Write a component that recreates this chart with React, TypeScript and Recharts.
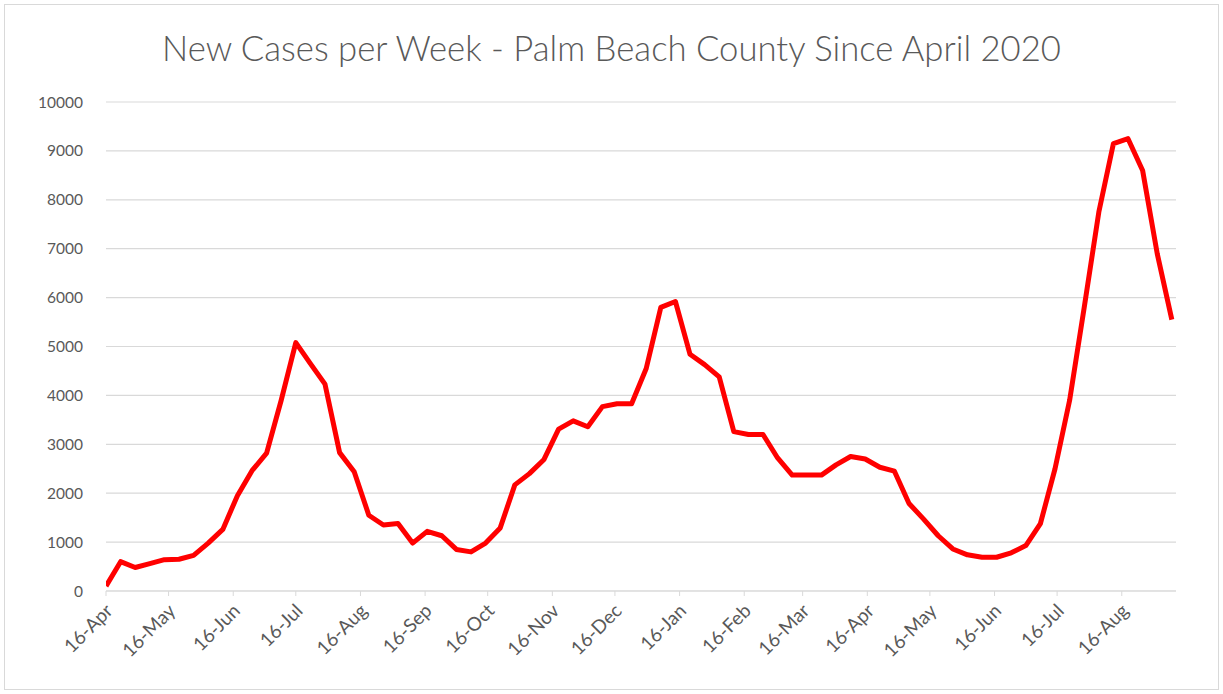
import { CartesianGrid, Line, LineChart, XAxis, YAxis } from "recharts";

// weekly totals, one point per week starting 16-Apr-2020
const firstWeek = "2020-04-16";
const weeklyCases = [
  100, 600, 480, 560, 640, 650, 730, 980, 1260, 1950,
  2460, 2820, 3900, 5080, 4650, 4230, 2830, 2440, 1550, 1350,
  1380, 980, 1220, 1130, 850, 800, 980, 1290, 2170, 2400,
  2690, 3310, 3480, 3360, 3770, 3830, 3830, 4550, 5800, 5920,
  4840, 4630, 4380, 3260, 3200, 3200, 2720, 2370, 2370, 2370,
  2580, 2750, 2700, 2530, 2450, 1790, 1470, 1130, 860, 740,
  690, 690, 780, 930, 1380, 2500, 3900, 5800, 7750, 9150,
  9250, 8600, 6900, 5550,
];

const tickDates = [
  "2020-04-16", "2020-05-16", "2020-06-16", "2020-07-16", "2020-08-16",
  "2020-09-16", "2020-10-16", "2020-11-16", "2020-12-16", "2021-01-16",
  "2021-02-16", "2021-03-16", "2021-04-16", "2021-05-16", "2021-06-16",
  "2021-07-16", "2021-08-16",
];
const tickLabels = [
  "16-Apr", "16-May", "16-Jun", "16-Jul", "16-Aug", "16-Sep", "16-Oct",
  "16-Nov", "16-Dec", "16-Jan", "16-Feb", "16-Mar", "16-Apr", "16-May",
  "16-Jun", "16-Jul", "16-Aug",
];
const yTicks = [0, 1000, 2000, 3000, 4000, 5000, 6000, 7000, 8000, 9000, 10000];

const DAY = 86400000;
const dayOf = (iso: string) =>
  Math.round((Date.parse(iso) - Date.parse(firstWeek)) / DAY);

const data = weeklyCases.map((cases, i) => ({ day: i * 7, cases }));
const xTicks = tickDates.map(dayOf);
const labelByDay: Record<number, string> = {};
xTicks.forEach((d, i) => (labelByDay[d] = tickLabels[i]));

const FONT = "Lato, 'Open Sans', sans-serif";
const GREY = "#595959";

function DateTick(props: any) {
  const { x, y, payload } = props;
  return (
    <g transform={`translate(${x + 8},${y + 14})`}>
      <text
        x={0}
        y={0}
        textAnchor="end"
        transform="rotate(-45)"
        fill={GREY}
        fontSize={19}
        fontFamily={FONT}
      >
        {labelByDay[payload.value]}
      </text>
    </g>
  );
}

export default function App() {
  return (
    <div
      style={{
        position: "absolute",
        left: 0,
        top: 0,
        width: 1223,
        height: 694,
        background: "#fff",
      }}
    >
      <div
        style={{
          position: "absolute",
          left: 4,
          top: 4,
          width: 1213,
          height: 684,
          border: "1px solid #d9d9d9",
        }}
      />
      <div
        style={{
          position: "absolute",
          left: 0,
          top: 28,
          width: 1223,
          textAlign: "center",
          fontFamily: FONT,
          fontWeight: 300,
          fontSize: 34.7,
          color: GREY,
          lineHeight: "40px",
        }}
      >
        New Cases per Week - Palm Beach County Since April 2020
      </div>
      <LineChart
        width={1223}
        height={694}
        data={data}
        margin={{ top: 102, right: 47, bottom: 23, left: 0 }}
        style={{ position: "absolute", left: 0, top: 0 }}
      >
        <CartesianGrid vertical={false} stroke="#d9d9d9" strokeWidth={1.2} />
        <XAxis
          dataKey="day"
          type="number"
          domain={[0, 513]}
          ticks={xTicks}
          interval={0}
          height={80}
          stroke="#d9d9d9"
          tickSize={5}
          tickMargin={2}
          tick={<DateTick />}
          allowDataOverflow
        />
        <YAxis
          type="number"
          domain={[0, 10000]}
          ticks={yTicks}
          interval={0}
          width={106}
          axisLine={false}
          tickLine={false}
          tickSize={0}
          tickMargin={23}
          tick={{ fill: GREY, fontSize: 15.5, fontFamily: FONT }}
        />
        <Line
          type="linear"
          dataKey="cases"
          stroke="#ff0000"
          strokeWidth={5}
          strokeLinejoin="round"
          dot={false}
          isAnimationActive={false}
        />
      </LineChart>
    </div>
  );
}
